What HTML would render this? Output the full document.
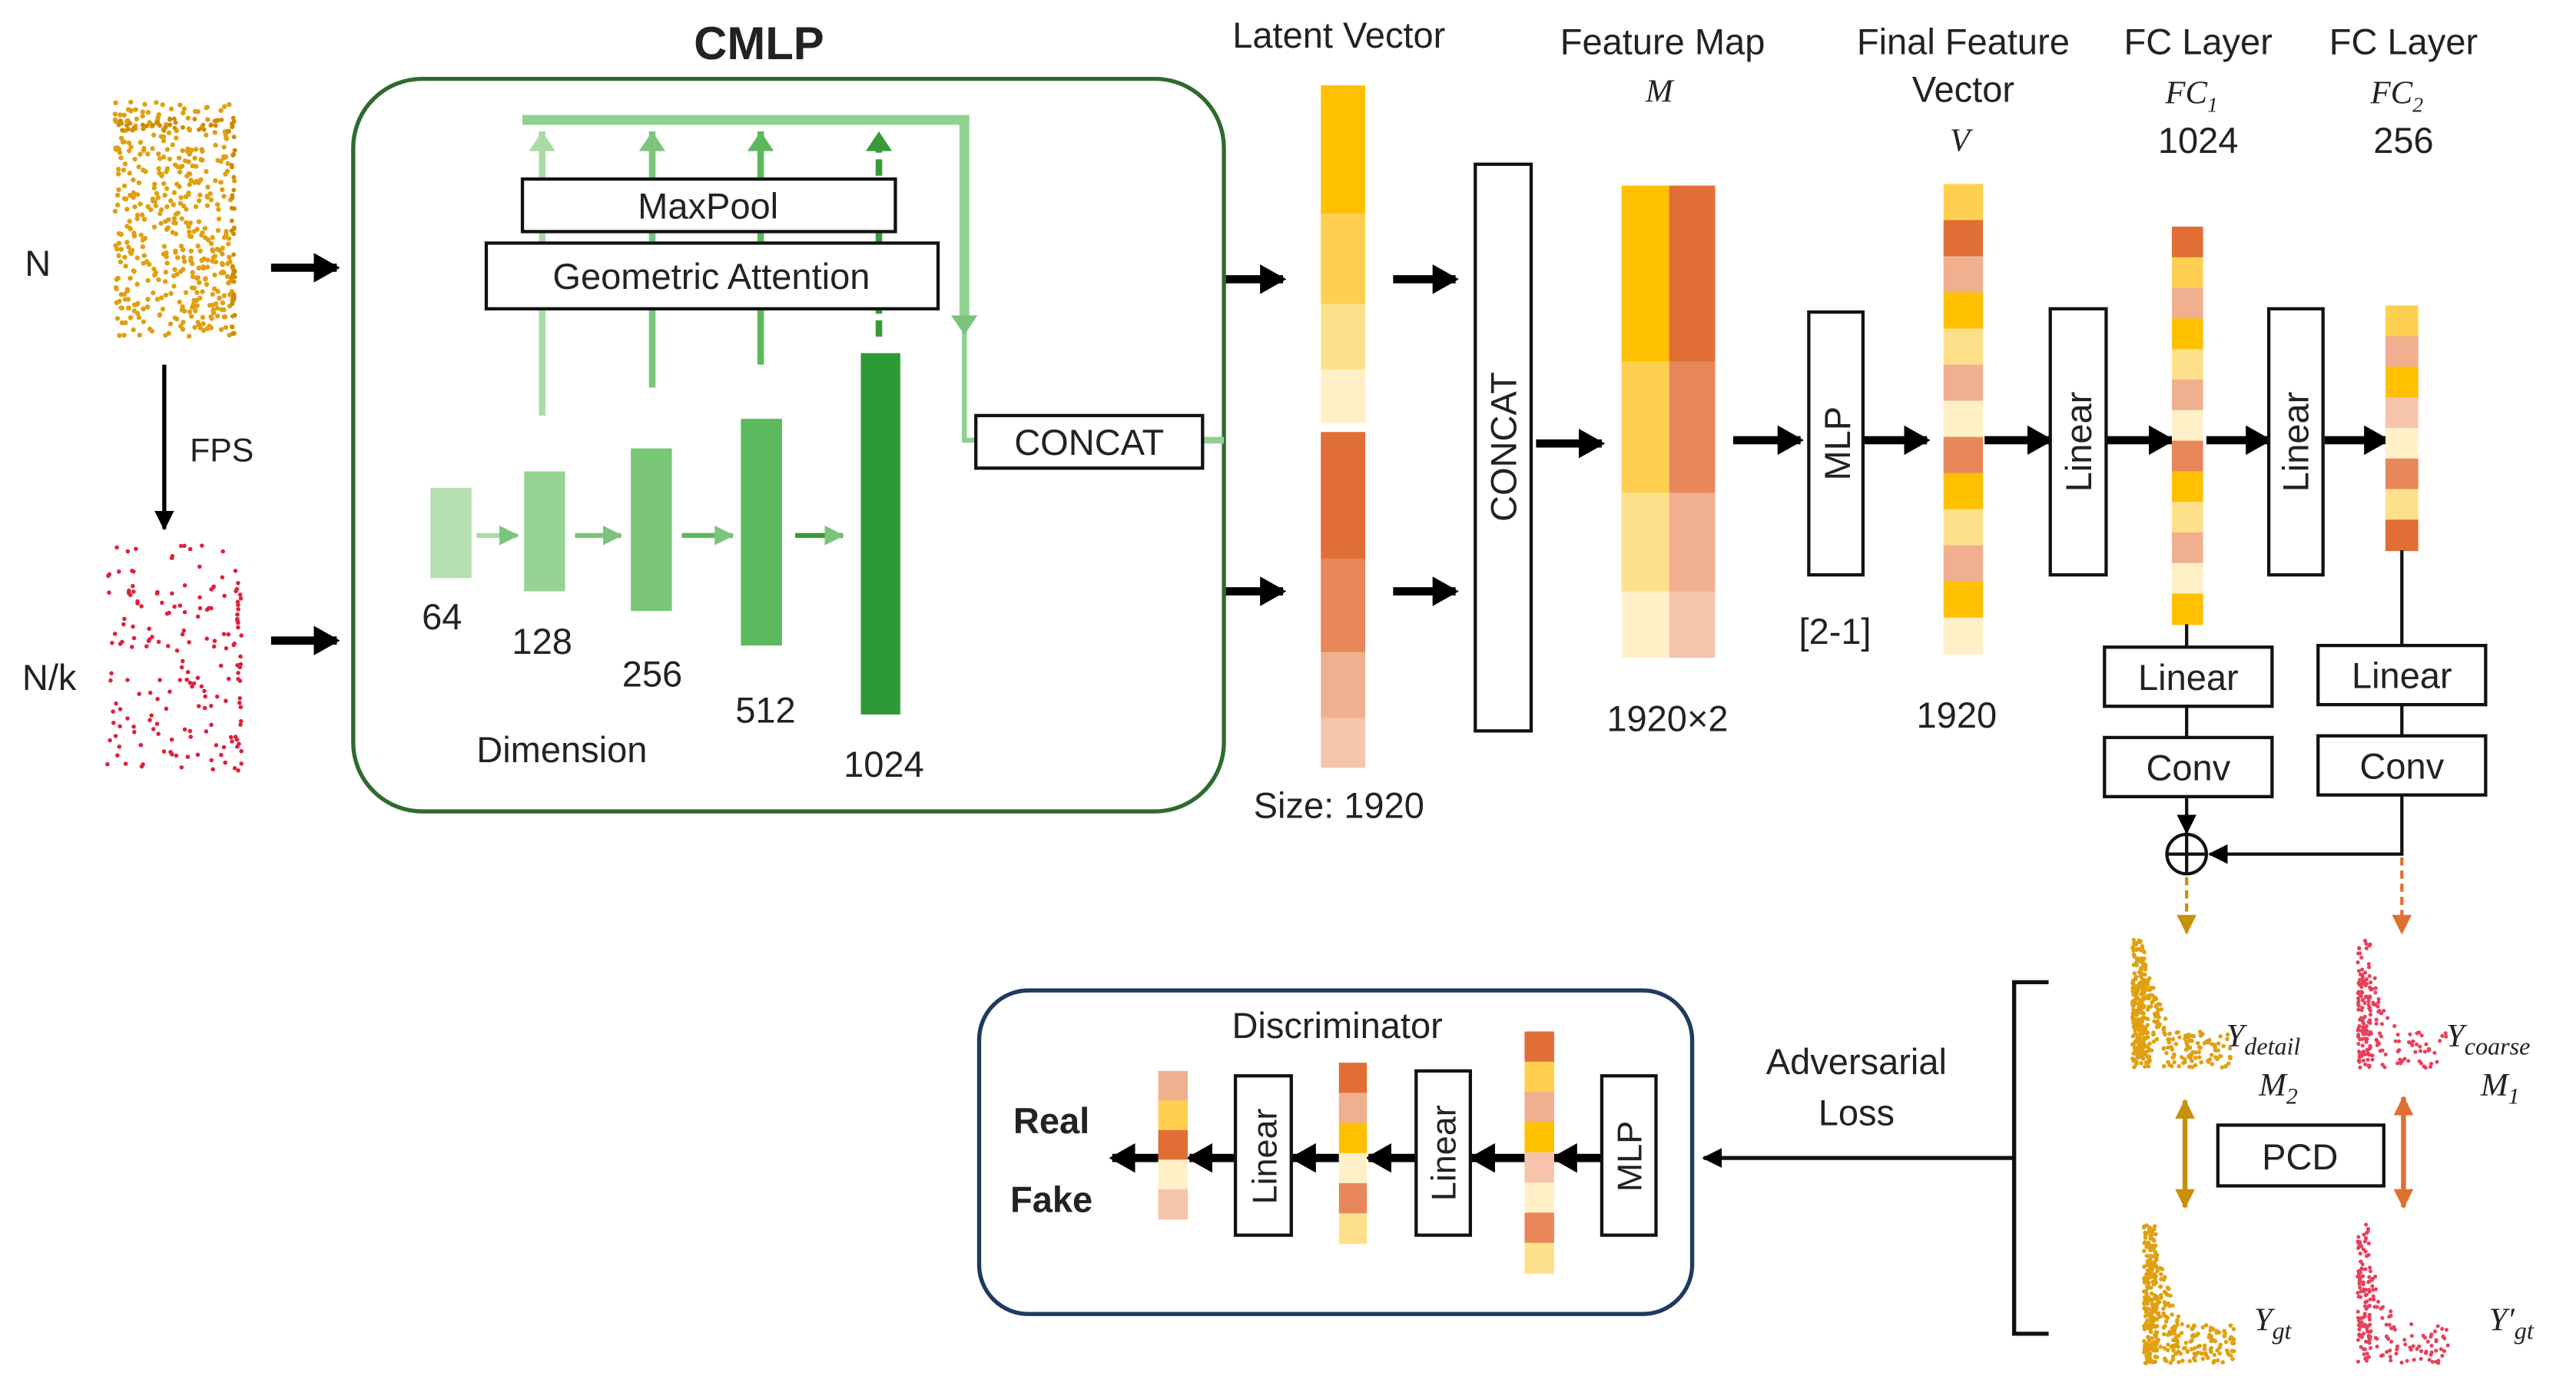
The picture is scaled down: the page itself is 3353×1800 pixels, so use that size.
<!DOCTYPE html>
<html><head><meta charset="utf-8"><style>
html,body{margin:0;padding:0;background:#fff;}
svg{display:block;}
text{font-family:"Liberation Sans",sans-serif;fill:#222;}
.it{font-family:"Liberation Serif",serif;font-style:italic;}
</style></head><body>
<svg id="s" width="3353" height="1800" viewBox="0 0 1568 842" preserveAspectRatio="none" xmlns="http://www.w3.org/2000/svg">
<defs>
<marker id="ab" markerUnits="userSpaceOnUse" markerWidth="16" markerHeight="18" refX="14" refY="9" orient="auto"><path d="M0,0 L16,9 L0,18 z" fill="#000"/></marker>
<marker id="as" markerUnits="userSpaceOnUse" markerWidth="12" markerHeight="12" refX="11" refY="6" orient="auto"><path d="M0,0 L12,6 L0,12 z" fill="#000"/></marker>
<marker id="ag" markerUnits="userSpaceOnUse" markerWidth="12" markerHeight="12" refX="11" refY="6" orient="auto"><path d="M0,0 L12,6 L0,12 z" fill="#7cc47c"/></marker>
<marker id="ao" markerUnits="userSpaceOnUse" markerWidth="12" markerHeight="12" refX="11" refY="6" orient="auto"><path d="M0,0 L12,6 L0,12 z" fill="#c8900a"/></marker>
<marker id="ar" markerUnits="userSpaceOnUse" markerWidth="12" markerHeight="12" refX="11" refY="6" orient="auto"><path d="M0,0 L12,6 L0,12 z" fill="#e07030"/></marker>
<marker id="ao2" markerUnits="userSpaceOnUse" markerWidth="12" markerHeight="12" refX="11" refY="6" orient="auto-start-reverse"><path d="M0,0 L12,6 L0,12 z" fill="#c8900a"/></marker>
<marker id="ar2" markerUnits="userSpaceOnUse" markerWidth="12" markerHeight="12" refX="11" refY="6" orient="auto-start-reverse"><path d="M0,0 L12,6 L0,12 z" fill="#e07030"/></marker>
</defs>
<g id="dots"></g>

<text x="23" y="168" font-size="22" text-anchor="middle">N</text>
<text x="30" y="420" font-size="22" text-anchor="middle">N/k</text>
<line x1="100" y1="222" x2="100" y2="322" stroke="#000" stroke-width="2.5" marker-end="url(#as)"/>
<text x="135" y="281" font-size="20" text-anchor="middle">FPS</text>
<g stroke="#000" stroke-width="5" marker-end="url(#ab)">
<line x1="165" y1="163" x2="205" y2="163"/><line x1="165" y1="390" x2="205" y2="390"/>
<line x1="745" y1="170" x2="781" y2="170"/><line x1="848" y1="170" x2="886" y2="170"/>
<line x1="745" y1="360" x2="781" y2="360"/><line x1="848" y1="360" x2="886" y2="360"/>
<line x1="935" y1="270" x2="975" y2="270"/><line x1="1055" y1="268" x2="1096" y2="268"/>
<line x1="1134" y1="268" x2="1173" y2="268"/><line x1="1208" y1="268" x2="1248" y2="268"/>
<line x1="1283" y1="268" x2="1322" y2="268"/><line x1="1343" y1="268" x2="1381" y2="268"/>
<line x1="1415" y1="268" x2="1453" y2="268"/>
<line x1="975" y1="705" x2="946" y2="705"/><line x1="928" y1="705" x2="896" y2="705"/>
<line x1="862" y1="705" x2="833" y2="705"/><line x1="815" y1="705" x2="787" y2="705"/>
<line x1="752" y1="705" x2="724" y2="705"/><line x1="705" y1="705" x2="677" y2="705"/>
</g>

<text x="462" y="36" font-size="28" font-weight="bold" text-anchor="middle">CMLP</text>
<rect x="215" y="48" width="530" height="446" rx="42" fill="none" stroke="#2e6b2e" stroke-width="2.5"/>
<path d="M318,73 H587 V200" fill="none" stroke="#8fd18f" stroke-width="6"/>
<path d="M587,195 V268 H596" fill="none" stroke="#8fd18f" stroke-width="3"/>
<path d="M579,192 L587,204 L595,192 z" fill="#7cc47c"/>
<line x1="732" y1="268" x2="745" y2="268" stroke="#8fd18f" stroke-width="4"/>
<g stroke-width="4">
<line x1="330" y1="253" x2="330" y2="80" stroke="#a8dca4"/>
<line x1="397" y1="236" x2="397" y2="80" stroke="#7cc47c"/>
<line x1="463" y1="222" x2="463" y2="80" stroke="#5cb85c"/>
<line x1="535" y1="205" x2="535" y2="80" stroke="#3a9a3a" stroke-dasharray="10,4"/>
</g>
<path d="M322,92 L330,80 L338,92z" fill="#a8dca4"/><path d="M389,92 L397,80 L405,92z" fill="#7cc47c"/>
<path d="M455,92 L463,80 L471,92z" fill="#5cb85c"/><path d="M527,92 L535,80 L543,92z" fill="#3a9a3a"/>
<rect x="318" y="109" width="227" height="32" fill="#fff" stroke="#111" stroke-width="2"/>
<text x="431" y="133" font-size="22" text-anchor="middle">MaxPool</text>
<rect x="296" y="148" width="275" height="40" fill="#fff" stroke="#111" stroke-width="2"/>
<text x="433" y="176" font-size="22" text-anchor="middle">Geometric Attention</text>
<rect x="594" y="253" width="138" height="32" fill="#fff" stroke="#111" stroke-width="2"/>
<text x="663" y="277" font-size="22" text-anchor="middle">CONCAT</text>
<rect x="262" y="297" width="25" height="55" fill="#b5e0b0"/>
<rect x="319" y="287" width="25" height="73" fill="#97d393"/>
<rect x="384" y="273" width="25" height="99" fill="#79c676"/>
<rect x="451" y="255" width="25" height="138" fill="#5cb85c"/>
<rect x="524" y="215" width="24" height="220" fill="#2e9a36"/>
<g stroke-width="3">
<line x1="290" y1="326" x2="315" y2="326" stroke="#a8dca4" marker-end="url(#ag)"/>
<line x1="350" y1="326" x2="378" y2="326" stroke="#7cc47c" marker-end="url(#ag)"/>
<line x1="415" y1="326" x2="446" y2="326" stroke="#5cb85c" marker-end="url(#ag)"/>
<line x1="484" y1="326" x2="513" y2="326" stroke="#3a9a3a" marker-end="url(#ag)"/>
</g>
<g font-size="22" text-anchor="middle">
<text x="269" y="383">64</text><text x="330" y="398">128</text><text x="397" y="418">256</text>
<text x="466" y="440">512</text><text x="538" y="473">1024</text><text x="342" y="464">Dimension</text>
</g>

<g font-size="22" text-anchor="middle">
<text x="815" y="29">Latent Vector</text>
<text x="815" y="498">Size: 1920</text>
<text x="1012" y="33">Feature Map</text>
<text x="1015" y="445">1920×2</text>
<text x="1195" y="33">Final Feature</text>
<text x="1195" y="62">Vector</text>
<text x="1191" y="443">1920</text>
<text x="1338" y="33">FC Layer</text>
<text x="1338" y="93">1024</text>
<text x="1463" y="33">FC Layer</text>
<text x="1463" y="93">256</text>
<text x="1117" y="392">[2-1]</text>
</g>
<g class="it" font-size="20" text-anchor="middle">
<text class="it" x="1010" y="62">M</text>
<text class="it" x="1193" y="92">V</text>
<text class="it" x="1334" y="63">FC<tspan font-size="13" dy="5">1</tspan></text>
<text class="it" x="1459" y="63">FC<tspan font-size="13" dy="5">2</tspan></text>
</g>
<g id="vecs"></g>

<rect x="898" y="100" width="34" height="345" fill="#fff" stroke="#111" stroke-width="2"/>
<text transform="translate(923,272) rotate(-90)" font-size="22" text-anchor="middle">CONCAT</text>
<rect x="1101" y="190" width="33" height="160" fill="#fff" stroke="#111" stroke-width="2"/>
<text transform="translate(1126,270) rotate(-90)" font-size="22" text-anchor="middle">MLP</text>
<rect x="1248" y="188" width="34" height="162" fill="#fff" stroke="#111" stroke-width="2"/>
<text transform="translate(1273,269) rotate(-90)" font-size="22" text-anchor="middle">Linear</text>
<rect x="1381" y="188" width="33" height="162" fill="#fff" stroke="#111" stroke-width="2"/>
<text transform="translate(1405,269) rotate(-90)" font-size="22" text-anchor="middle">Linear</text>

<g stroke="#111" stroke-width="2">
<line x1="1331" y1="380" x2="1331" y2="394"/><line x1="1331" y1="430" x2="1331" y2="449"/>
<line x1="1331" y1="485" x2="1331" y2="507" marker-end="url(#as)"/>
<line x1="1462" y1="335" x2="1462" y2="393"/><line x1="1462" y1="429" x2="1462" y2="448"/>
<polyline points="1462,484 1462,520 1345,520" fill="none" marker-end="url(#as)"/>
<circle cx="1331" cy="520" r="12" fill="#fff"/>
<line x1="1319" y1="520" x2="1343" y2="520"/><line x1="1331" y1="508" x2="1331" y2="532"/>
</g>
<g fill="#fff" stroke="#111" stroke-width="2">
<rect x="1281" y="394" width="102" height="36"/><rect x="1281" y="449" width="102" height="36"/>
<rect x="1411" y="393" width="102" height="36"/><rect x="1411" y="448" width="102" height="36"/>
<rect x="1350" y="685" width="101" height="37"/>
</g>
<g font-size="22" text-anchor="middle">
<text x="1332" y="420">Linear</text><text x="1332" y="475">Conv</text>
<text x="1462" y="419">Linear</text><text x="1462" y="474">Conv</text>
<text x="1400" y="712">PCD</text>
</g>
<line x1="1331" y1="534" x2="1331" y2="568" stroke="#c8900a" stroke-width="2" stroke-dasharray="5,3" marker-end="url(#ao)"/>
<line x1="1462" y1="522" x2="1462" y2="568" stroke="#e07030" stroke-width="2" stroke-dasharray="5,3" marker-end="url(#ar)"/>
<line x1="1330" y1="670" x2="1330" y2="735" stroke="#c8900a" stroke-width="3" marker-end="url(#ao2)" marker-start="url(#ao2)"/>
<line x1="1463" y1="668" x2="1463" y2="735" stroke="#e07030" stroke-width="3" marker-end="url(#ar2)" marker-start="url(#ar2)"/>
<g font-size="20" fill="#222">
<text class="it" x="1355" y="637">Y<tspan font-size="15" dy="5">detail</tspan></text>
<text class="it" x="1375" y="667">M<tspan font-size="14" dy="5">2</tspan></text>
<text class="it" x="1489" y="637">Y<tspan font-size="15" dy="5">coarse</tspan></text>
<text class="it" x="1510" y="667">M<tspan font-size="14" dy="5">1</tspan></text>
<text class="it" x="1372" y="810">Y<tspan font-size="15" dy="5">gt</tspan></text>
<text class="it" x="1515" y="810">Y′<tspan font-size="15" dy="5">gt</tspan></text>
</g>

<polyline points="1247,598 1226,598 1226,812 1247,812" fill="none" stroke="#111" stroke-width="2.5"/>
<line x1="1226" y1="705" x2="1037" y2="705" stroke="#111" stroke-width="2.5" marker-end="url(#as)"/>
<text x="1130" y="654" font-size="22" text-anchor="middle">Adversarial</text>
<text x="1130" y="685" font-size="22" text-anchor="middle">Loss</text>

<rect x="596" y="603" width="434" height="197" rx="30" fill="none" stroke="#1f3a5f" stroke-width="2.5"/>
<text x="814" y="632" font-size="22" text-anchor="middle">Discriminator</text>
<g fill="#fff" stroke="#111" stroke-width="2">
<rect x="975" y="655" width="33" height="97"/><rect x="862" y="652" width="33" height="100"/><rect x="752" y="655" width="34" height="97"/>
</g>
<g font-size="21" text-anchor="middle">
<text transform="translate(999,704) rotate(-90)">MLP</text>
<text transform="translate(886,702) rotate(-90)">Linear</text>
<text transform="translate(777,704) rotate(-90)">Linear</text>
</g>
<text x="640" y="690" font-size="22" font-weight="bold" text-anchor="middle">Real</text>
<text x="640" y="738" font-size="22" font-weight="bold" text-anchor="middle">Fake</text>
</svg>
<script>
var NS="http://www.w3.org/2000/svg";
var Y0="#ffc000",Y1="#ffd04f",Y2="#ffe08a",Y3="#fff0c8",R0="#e06e35",R1="#e8875a",R2="#f0b090",R3="#f6c4aa";
var vg=document.getElementById("vecs");
function rect(g,x,y,w,h,c){var r=document.createElementNS(NS,"rect");r.setAttribute("x",x);r.setAttribute("y",y);r.setAttribute("width",w);r.setAttribute("height",h+0.5);r.setAttribute("fill",c);g.appendChild(r);}
function seg(g,x,w,stops,cols){for(var i=0;i<cols.length;i++)rect(g,x,stops[i],w,stops[i+1]-stops[i],cols[i]);}
function uni(g,x,w,y0,y1,cols){var h=(y1-y0)/cols.length;for(var i=0;i<cols.length;i++)rect(g,x,y0+i*h,w,h,cols[i]);}
seg(vg,804,27,[52,130,185,225,257],[Y0,Y1,Y2,Y3]);
seg(vg,804,27,[263,340,397,437,467],[R0,R1,R2,R3]);
seg(vg,987,29,[113,220,300,360,400],[Y0,Y1,Y2,Y3]);
seg(vg,1016,28,[113,220,300,360,400],[R0,R1,R2,R3]);
uni(vg,1183,24,112,398,[Y1,R0,R2,Y0,Y2,R2,Y3,R1,Y0,Y2,R2,Y0,Y3]);
uni(vg,1322,19,138,380,[R0,Y1,R2,Y0,Y2,R2,Y3,R1,Y0,Y2,R2,Y3,Y0]);
uni(vg,1452,20,186,335,[Y1,R2,Y0,R3,Y3,R1,Y2,R0]);
uni(vg,928,18,628,775,[R0,Y1,R2,Y0,R3,Y3,R1,Y2]);
uni(vg,815,17,647,757,[R0,R2,Y0,Y3,R1,Y2]);
uni(vg,705,18,652,742,[R2,Y1,R0,Y3,R3]);
var dg=document.getElementById("dots");var seed=7;
function rnd(){seed=(seed*16807)%2147483647;return seed/2147483647;}
function dot(x,y,r,c){var e=document.createElementNS(NS,"circle");e.setAttribute("cx",x.toFixed(1));e.setAttribute("cy",y.toFixed(1));e.setAttribute("r",r);e.setAttribute("fill",c);dg.appendChild(e);}
var i;
for(i=0;i<480;i++){var y=62+rnd()*143,x=70+rnd()*73; if(y<80&&x>100&&rnd()<0.5)continue; dot(x,y,1.5,"#e0a010");}
for(i=0;i<40;i++)dot(141+rnd()*2,70+rnd()*135,1.4,"#d08a00");
for(i=0;i<40;i++)dot(70+rnd()*73,72+rnd()*8,1.4,"#d08a00");
for(i=0;i<150;i++)dot(65+rnd()*80,332+rnd()*138,1.3,"#e0203a");
for(i=0;i<30;i++)dot(144+rnd()*3,345+rnd()*125,1.3,"#e0203a");
function Lcloud(x0,y0,w,h,n,c,r){
 for(var k=0;k<n;k++){
  if(rnd()<0.45){dot(x0+rnd()*8,y0+rnd()*h,r,c);}
  else if(rnd()<0.6){dot(x0+rnd()*w,y0+h*0.72+rnd()*h*0.28,r,c);}
  else {var yy=y0+h*0.3+rnd()*h*0.45;var fr=(yy-y0)/h;dot(x0+rnd()*(8+fr*fr*w*0.6),yy,r,c);}
 }
}
Lcloud(1298,572,60,78,420,"#e0a010",1.3);
Lcloud(1435,572,55,78,200,"#e8405a",1.2);
Lcloud(1305,745,55,85,420,"#e0a010",1.3);
Lcloud(1435,745,55,85,200,"#e8405a",1.2);
</script>
</body></html>
